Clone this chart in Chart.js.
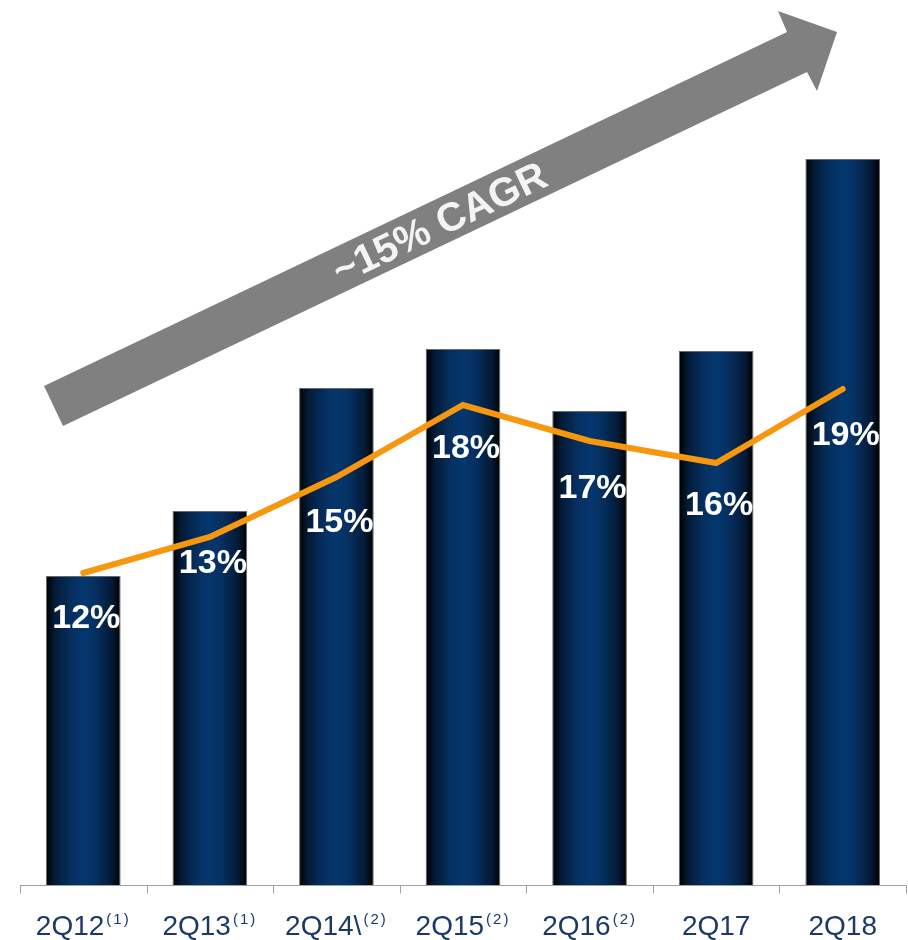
<!DOCTYPE html>
<html>
<head>
<meta charset="utf-8">
<script src="https://cdn.jsdelivr.net/npm/chart.js@4"></script>
<style>
  html, body { margin: 0; padding: 0; background: #ffffff; }
  #wrap { width: 908px; height: 940px; }
</style>
</head>
<body>
<div id="wrap"><canvas id="c" width="908" height="940"></canvas></div>
<script>
// ---- Data ----
const categories = ['2Q12', '2Q13', '2Q14\\', '2Q15', '2Q16', '2Q17', '2Q18'];
const footnotes  = ['(1)', '(1)', '(2)', '(2)', '(2)', '', ''];
// Bar values (relative units, no axis shown)
const barValues  = [310, 375, 498, 537, 475, 535, 727];
// Line values (relative units on same hidden axis)
const lineValues = [313, 349, 409, 481, 445, 423, 497];
// Percentage labels shown under the line
const pctLabels  = ['12%', '13%', '15%', '18%', '17%', '16%', '19%'];
const cagrText   = '~15% CAGR';

// ---- Style ----
const FONT = '"Liberation Sans", Arial, Helvetica, sans-serif';
const BAR_PCT = 0.59;
const LABEL_DY = [55, 36, 55, 53, 57, 52, 56];

function barGradient(context) {
  const chart = context.chart;
  const area = chart.chartArea;
  if (!area || context.type !== 'data') return '#0a2f5f';
  const i = context.dataIndex;
  const x = chart.scales.x.getPixelForValue(i);
  const half = area.width / categories.length * BAR_PCT / 2;
  const g = chart.ctx.createLinearGradient(x - half, 0, x + half, 0);
  g.addColorStop(0, '#000000');
  g.addColorStop(0.12, '#031a36');
  g.addColorStop(0.33, '#062f5f');
  g.addColorStop(0.5, '#04376f');
  g.addColorStop(0.67, '#062f5f');
  g.addColorStop(0.88, '#031a36');
  g.addColorStop(1, '#000000');
  return g;
}

const arrowPlugin = {
  id: 'arrow',
  beforeDatasetsDraw(chart) {
    const ctx = chart.ctx;
    ctx.save();
    ctx.fillStyle = '#808080';
    ctx.beginPath();
    ctx.moveTo(44, 386);
    ctx.lineTo(787, 32);
    ctx.lineTo(778, 11);
    ctx.lineTo(837, 32);
    ctx.lineTo(817, 91);
    ctx.lineTo(807, 72);
    ctx.lineTo(63, 426);
    ctx.closePath();
    ctx.fill();
    ctx.translate(440, 224);
    ctx.rotate(-Math.atan2(354, 743));
    ctx.fillStyle = '#f4f4f4';
    ctx.font = 'bold 40px ' + FONT;
    ctx.textAlign = 'center';
    ctx.textBaseline = 'middle';
    ctx.fillText(cagrText, 0, 1);
    ctx.restore();
  }
};

const labelPlugin = {
  id: 'labels',
  afterDatasetsDraw(chart) {
    const ctx = chart.ctx;
    const xs = chart.scales.x, ys = chart.scales.y;
    const area = chart.chartArea;
    ctx.save();
    // percentage labels
    ctx.fillStyle = '#ffffff';
    ctx.font = 'bold 34px ' + FONT;
    ctx.textAlign = 'center';
    ctx.textBaseline = 'alphabetic';
    lineValues.forEach((v, i) => {
      const x = xs.getPixelForValue(i) + 3;
      const y = ys.getPixelForValue(v) + LABEL_DY[i];
      ctx.fillText(pctLabels[i], x, y);
    });
    // axis line and ticks
    const yb = Math.round(area.bottom) - 0.5;
    ctx.strokeStyle = '#a0a0a0';
    ctx.lineWidth = 1;
    ctx.beginPath();
    ctx.moveTo(area.left, yb);
    ctx.lineTo(area.right, yb);
    const step = area.width / categories.length;
    for (let k = 0; k <= categories.length; k++) {
      const tx = Math.round(area.left + k * step) + 0.5;
      ctx.moveTo(tx, yb);
      ctx.lineTo(tx, yb + 8);
    }
    ctx.stroke();
    // category labels with superscript footnotes
    ctx.fillStyle = '#1b3b66';
    ctx.textAlign = 'left';
    categories.forEach((c, i) => {
      const cx = xs.getPixelForValue(i);
      ctx.font = '28px ' + FONT;
      ctx.letterSpacing = '0px';
      const wm = ctx.measureText(c).width;
      ctx.font = '15px ' + FONT;
      ctx.letterSpacing = '2px';
      const ws = footnotes[i] ? ctx.measureText(footnotes[i]).width + 2 : 0;
      const start = cx - (wm + ws) / 2;
      ctx.font = '28px ' + FONT;
      ctx.letterSpacing = '0px';
      ctx.fillText(c, start, 935);
      if (footnotes[i]) {
        ctx.font = '15px ' + FONT;
        ctx.letterSpacing = '2px';
        ctx.fillText(footnotes[i], start + wm + 2, 924);
      }
    });
    ctx.restore();
  }
};

new Chart(document.getElementById('c'), {
  data: {
    labels: categories,
    datasets: [
      {
        type: 'line',
        data: lineValues,
        borderColor: '#f7970f',
        borderWidth: 6,
        borderCapStyle: 'round',
        borderJoinStyle: 'miter',
        pointRadius: 0,
        tension: 0,
        order: 0
      },
      {
        type: 'bar',
        data: barValues,
        backgroundColor: barGradient,
        borderColor: '#6a6a6a',
        borderWidth: 1,
        barPercentage: BAR_PCT,
        categoryPercentage: 1,
        order: 1
      }
    ]
  },
  options: {
    responsive: false,
    animation: false,
    devicePixelRatio: 1,
    layout: { padding: { left: 20, right: 2, top: 0, bottom: 54 } },
    plugins: { legend: { display: false }, tooltip: { enabled: false } },
    scales: {
      x: { display: false },
      y: { display: false, min: 0, max: 886 }
    }
  },
  plugins: [arrowPlugin, labelPlugin]
});
</script>
</body>
</html>
